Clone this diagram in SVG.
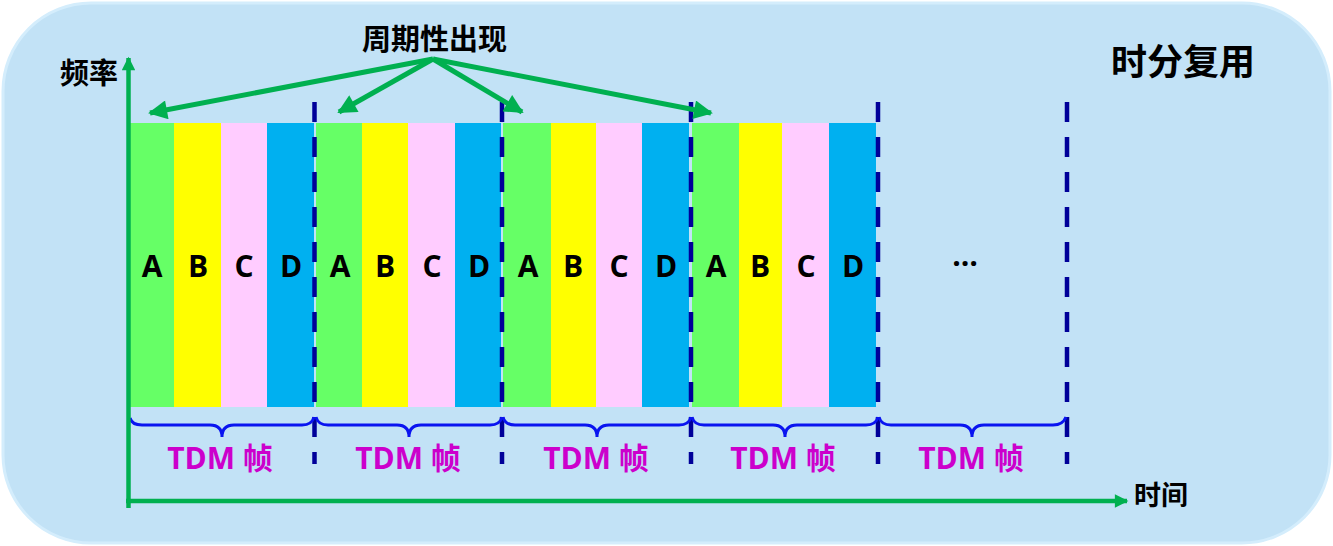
<svg xmlns="http://www.w3.org/2000/svg" width="1333" height="546" viewBox="0 0 1333 546">
<defs>
<marker id="ga" viewBox="0 0 10 10" refX="9" refY="5" markerWidth="4.4" markerHeight="3.8" orient="auto" markerUnits="strokeWidth">
<path d="M0,0 L10,5 L0,10 Z" fill="#00B050"/>
</marker>
<marker id="ax" viewBox="0 0 10 10" refX="9" refY="5" markerWidth="3.6" markerHeight="3" orient="auto" markerUnits="strokeWidth">
<path d="M0,0 L10,5 L0,10 Z" fill="#00B050"/>
</marker>
</defs>
<style>
.t{font-family:"Noto Sans CJK SC","Liberation Sans",sans-serif;font-weight:bold;fill:#000}
.l{font-family:"Open Sans","Noto Sans CJK SC",sans-serif;font-weight:bold;font-size:30px;text-anchor:middle;fill:#000}
.f{font-family:"Open Sans","Noto Sans CJK SC",sans-serif;font-weight:bold;font-size:30px;text-anchor:middle;fill:#CC00CC}
.A{fill:#66FF66}.B{fill:#FFFF00}.C{fill:#FFCCFF}.D{fill:#00B0F0}
.dash{stroke:#000099;stroke-width:4.5;stroke-dasharray:20 15;fill:none}
.brace{stroke:#0A14F0;stroke-width:3;fill:none}
.arr{stroke:#00B050;stroke-width:5;fill:none}
.axis{stroke:#00B050;stroke-width:4.5;fill:none}
</style>
<rect x="3" y="3" width="1327" height="540" rx="88" ry="88" fill="#C2E2F6" stroke="#D4EDFC" stroke-width="3"/>

<g id="frame1">
<rect class="A" x="130" y="123" width="44" height="284"/>
<rect class="B" x="174" y="123" width="47" height="284"/>
<rect class="C" x="221" y="123" width="46" height="284"/>
<rect class="D" x="267" y="123" width="47" height="284"/>
<text class="l" x="152" y="277">A</text>
<text class="l" x="198" y="277">B</text>
<text class="l" x="244" y="277">C</text>
<text class="l" x="291" y="277">D</text>
</g>
<g id="frame2">
<rect class="A" x="316" y="123" width="46" height="284"/>
<rect class="B" x="362" y="123" width="46" height="284"/>
<rect class="C" x="408" y="123" width="47" height="284"/>
<rect class="D" x="455" y="123" width="46" height="284"/>
<text class="l" x="340" y="277">A</text>
<text class="l" x="385" y="277">B</text>
<text class="l" x="432" y="277">C</text>
<text class="l" x="479" y="277">D</text>
</g>
<g id="frame3">
<rect class="A" x="503" y="123" width="48" height="284"/>
<rect class="B" x="551" y="123" width="45" height="284"/>
<rect class="C" x="596" y="123" width="46" height="284"/>
<rect class="D" x="642" y="123" width="47" height="284"/>
<text class="l" x="528" y="277">A</text>
<text class="l" x="573" y="277">B</text>
<text class="l" x="619" y="277">C</text>
<text class="l" x="666" y="277">D</text>
</g>
<g id="frame4">
<rect class="A" x="692" y="123" width="47" height="284"/>
<rect class="B" x="739" y="123" width="43" height="284"/>
<rect class="C" x="782" y="123" width="47" height="284"/>
<rect class="D" x="829" y="123" width="47" height="284"/>
<text class="l" x="716" y="277">A</text>
<text class="l" x="760" y="277">B</text>
<text class="l" x="806" y="277">C</text>
<text class="l" x="853" y="277">D</text>
</g>
<g id="ellipsis">
<text class="l" x="965" y="266">…</text>
</g>

<g id="dividers">
<line class="dash" x1="314.5" y1="102" x2="314.5" y2="464"/>
<line class="dash" x1="502" y1="102" x2="502" y2="464"/>
<line class="dash" x1="691" y1="102" x2="691" y2="464"/>
<line class="dash" x1="878" y1="102" x2="878" y2="464"/>
<line class="dash" x1="1067" y1="102" x2="1067" y2="464"/>
</g>

<g id="braces">
<path class="brace" d="M130,418 Q132,425 142,425 L210,425 Q222,425 222,437 Q222,425 234,425 L302,425 Q312,425 314,417"/>
<path class="brace" d="M316,417 Q318,425 328,425 L397,425 Q409,425 409,437 Q409,425 421,425 L490,425 Q500,425 502,417"/>
<path class="brace" d="M503,417 Q505,425 515,425 L585,425 Q597,425 597,437 Q597,425 609,425 L679,425 Q689,425 691,417"/>
<path class="brace" d="M692,417 Q694,425 704,425 L773,425 Q785,425 785,437 Q785,425 797,425 L866,425 Q876,425 878,417"/>
<path class="brace" d="M879,417 Q881,425 891,425 L960,425 Q972,425 972,437 Q972,425 984,425 L1053,425 Q1063,425 1066,417"/>
</g>

<g id="frame-labels">
<text class="f" x="220" y="469">TDM 帧</text>
<text class="f" x="408" y="469">TDM 帧</text>
<text class="f" x="596" y="469">TDM 帧</text>
<text class="f" x="783" y="469">TDM 帧</text>
<text class="f" x="971" y="469">TDM 帧</text>
</g>

<g id="connectors">
<line class="axis" x1="128.5" y1="508" x2="128.5" y2="58" marker-end="url(#ax)"/>
<line class="axis" x1="126" y1="501" x2="1127" y2="501" marker-end="url(#ax)"/>
<line class="arr" x1="433" y1="59" x2="150" y2="113" marker-end="url(#ga)"/>
<line class="arr" x1="433" y1="59" x2="339" y2="112" marker-end="url(#ga)"/>
<line class="arr" x1="433" y1="59" x2="522" y2="112" marker-end="url(#ga)"/>
<line class="arr" x1="433" y1="59" x2="711" y2="113" marker-end="url(#ga)"/>
</g>

<g id="labels">
<text class="t" x="362" y="50" font-size="29">周期性出现</text>
<text class="t" x="60" y="84" font-size="29">频率</text>
<text class="t" x="1134" y="505" font-size="27">时间</text>
<text class="t" x="1111" y="75" font-size="36">时分复用</text>
</g>
</svg>
